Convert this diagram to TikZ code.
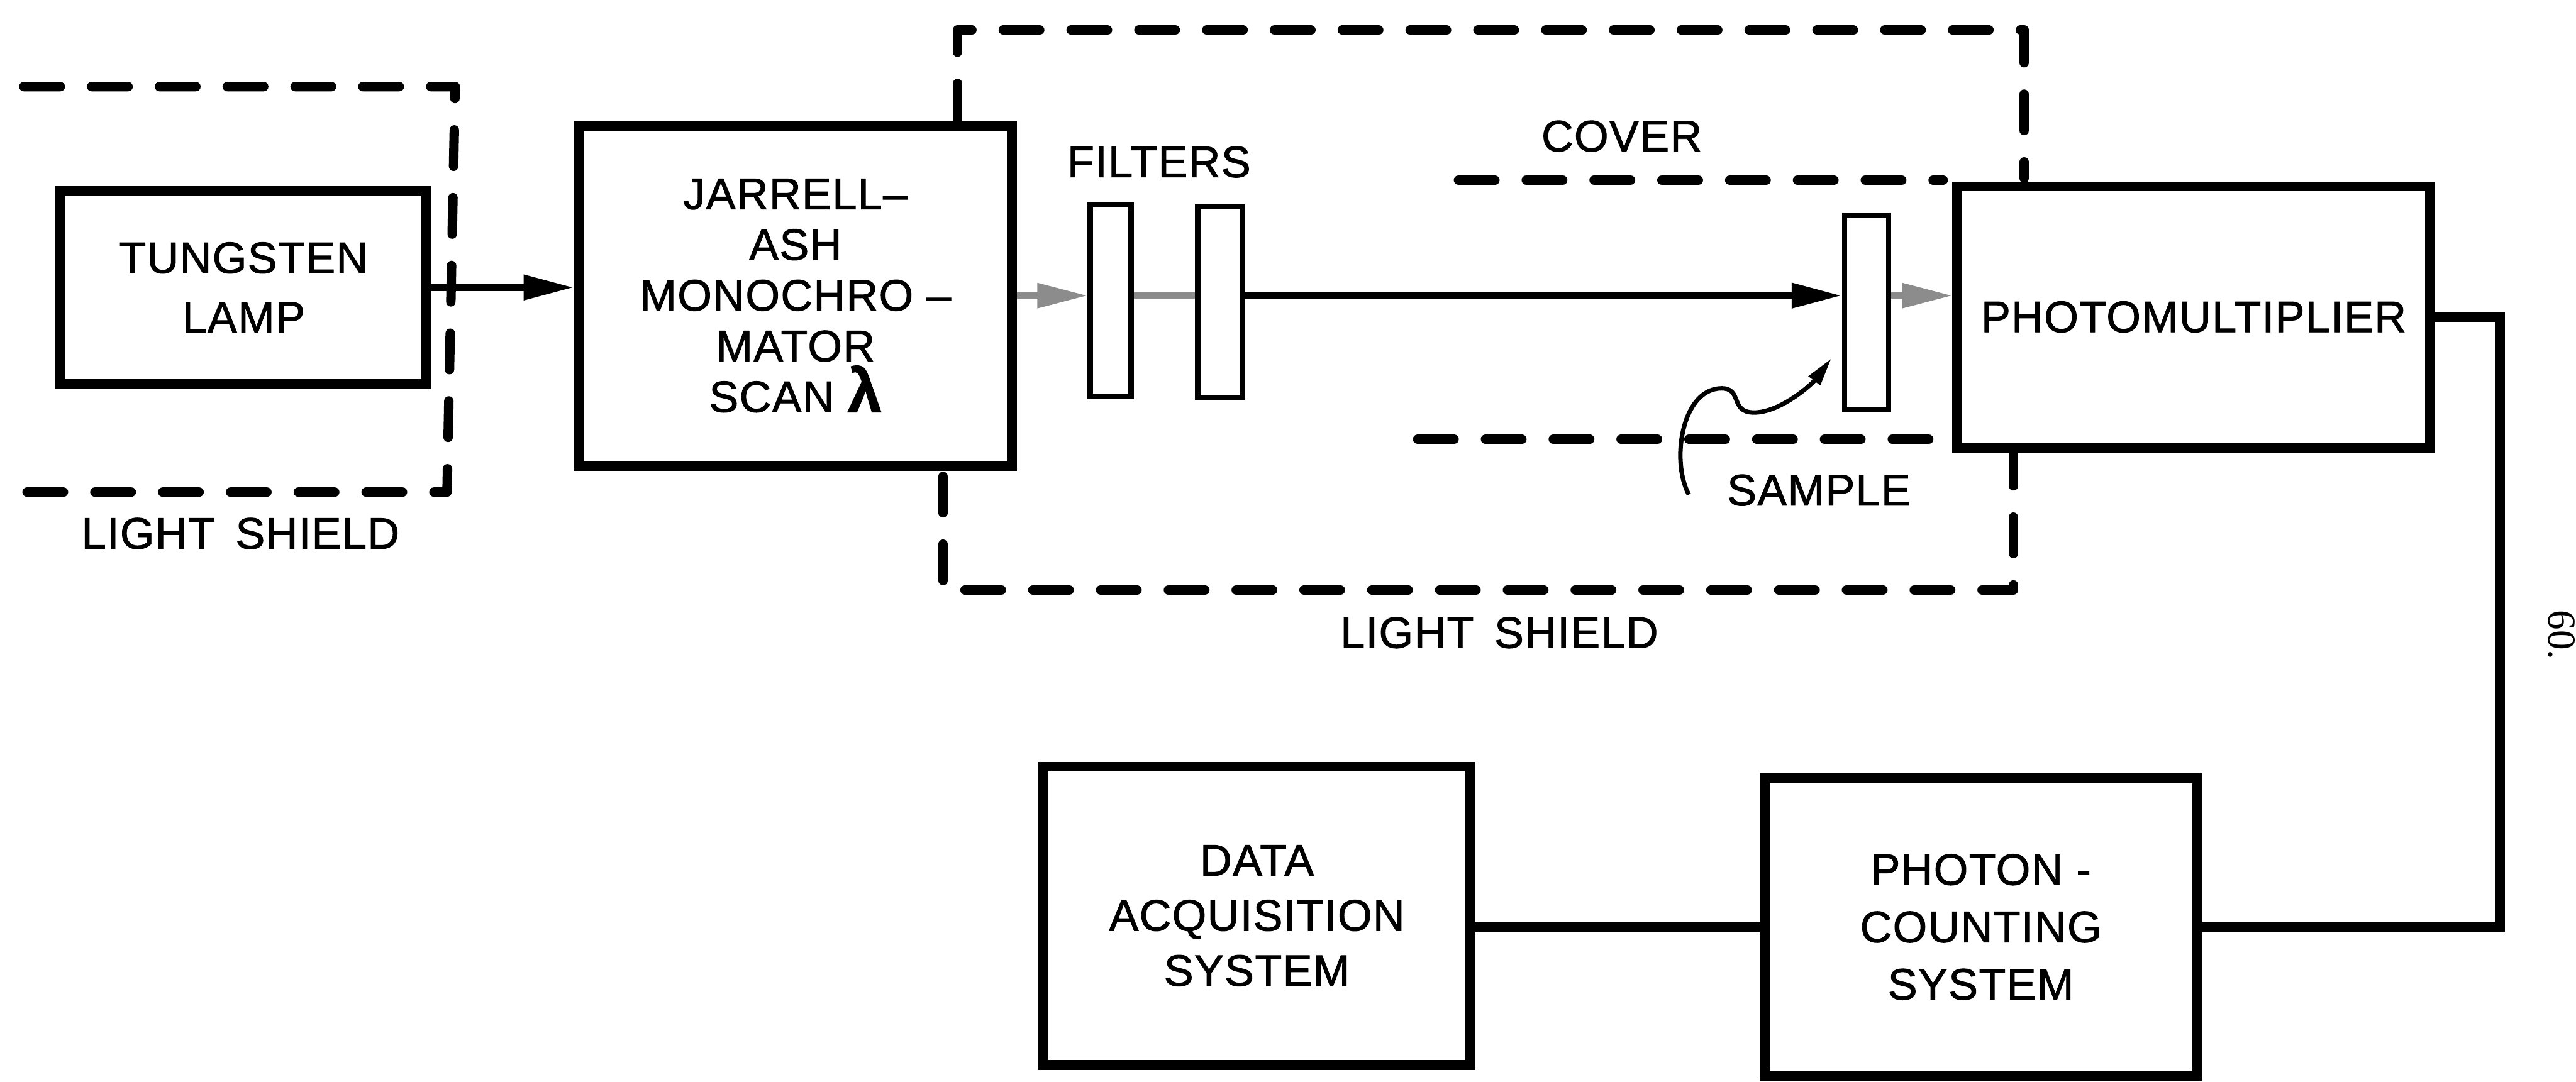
\documentclass[tikz,border=0pt]{standalone}
\usepackage{fontspec}
\setmainfont{Liberation Sans}[FakeBold=1.3, LetterSpace=2]
\newfontfamily\pagefont{Liberation Serif}
\usepackage{tikz}
\usetikzlibrary{arrows.meta,calc,positioning}

\begin{document}
\begin{tikzpicture}[>={Triangle[length=0.8cm,width=0.38cm]},
    box/.style={draw, line width=4.5pt, inner sep=0pt, align=center, font=\fontsize{20}{24}\selectfont},
    filt/.style={draw, line width=2.5pt, inner sep=0pt, minimum width=0.65cm, minimum height=3.05cm},
    shield/.style={line width=4.3pt, line cap=round, line join=round, dash pattern=on 0.58cm off 0.5cm},
    wire/.style={line width=4.5pt},
    beam/.style={line width=3.2pt},
    faint/.style={line width=2.8pt, black!45},
    lbl/.style={font=\fontsize{20}{24}\selectfont}]
    \useasboundingbox (0,0) rectangle (41.03,17.23);

    % Left light shield and lamp
    \draw[shield] (0.38,15.85) -- (7.25,15.85) -- (7.12,9.39) -- (0.25,9.39);
    \node[lbl] (shieldA) at (3.83,8.73) {LIGHT \,SHIELD};
    \node[box, minimum width=5.83cm, minimum height=3.08cm, font=\fontsize{20}{27}\selectfont] (lamp) at (3.88,12.65) {TUNGSTEN\\LAMP};

    % Monochromator
    \node[box, minimum width=6.9cm, minimum height=5.42cm, font=\fontsize{20}{23}\selectfont] (mono) at (12.67,12.52)
        {JARRELL--\\ASH\\MONOCHRO --\\MATOR\\SCAN {\fontsize{28}{23}\selectfont\bfseries λ}};
    \draw[->, beam] (lamp.east) -- (lamp.east -| mono.west);

    % Middle light shield
    \draw[shield] (15.25,15.32) -- (15.25,16.75) -- (32.24,16.75) -- (32.24,14.39);
    \draw[shield] (15.02,9.64) -- (15.02,7.83) -- (32.07,7.83) -- (32.07,10.02);
    \node[lbl] (shieldB) at (23.88,7.15) {LIGHT \,SHIELD};

    % Filters
    \node[lbl] (filtlbl) at (18.46,14.65) {FILTERS};
    \node[filt] (filter1) at (17.69,12.44) {};
    \node[filt, minimum width=0.71cm] (filter2) at (19.43,12.42) {};

    % Sample compartment
    \node[lbl] (coverlbl) at (25.83,15.06) {COVER};
    \draw[shield] (23.23,14.36) -- (30.95,14.36);
    \draw[shield] (22.58,10.23) -- (31.10,10.23);
    \node[filt, minimum width=0.70cm, minimum height=3.10cm] (sample) at (29.73,12.25) {};
    \node[lbl] (samplelbl) at (28.97,9.42) {SAMPLE};

    % Photomultiplier
    \node[box, minimum width=7.53cm, minimum height=4.16cm] (pm) at (34.94,12.18) {PHOTOMULTIPLIER};

    % Light path
    \draw[->, faint] (mono.east) -- (mono.east -| filter1.west);
    \draw[faint] (mono.east -| filter1.east) -- (mono.east -| filter2.west);
    \draw[->, beam] (mono.east -| filter2.east) -- (mono.east -| sample.west);
    \draw[->, faint] (mono.east -| sample.east) -- (mono.east -| pm.west);

    % Sample leader
    \coordinate (leadstart) at (26.90,9.35);
    \coordinate (leadtip) at (29.17,11.52);
    \draw[->, line width=2pt, >={Triangle[length=0.45cm,width=0.22cm]}] (leadstart)
        .. controls (26.6,9.9) and (26.8,11.1) .. (27.47,11.04)
        .. controls (27.75,11.0) and (27.55,10.62) .. (28.0,10.66)
        .. controls (28.4,10.7) and (28.85,11.1) .. (leadtip);

    % Counting and data acquisition
    \node[box, minimum width=6.89cm, minimum height=4.74cm, font=\fontsize{20}{26}\selectfont] (pc) at (31.55,2.46) {PHOTON -\\COUNTING\\SYSTEM};
    \node[box, minimum width=6.80cm, minimum height=4.75cm, font=\fontsize{20}{25}\selectfont] (da) at (20.02,2.64) {DATA\\ACQUISITION\\SYSTEM};
    \coordinate (turn) at (39.82,2.46);
    \draw[wire] (pm.east) -| (turn) -- (pc.east);
    \draw[wire] (pc.west) -- (pc.west -| da.east);

    % Page number
    \node[font=\pagefont\fontsize{18}{18}\selectfont, rotate=-90] (page) at (40.80,7.11) {60.};
\end{tikzpicture}
\end{document}
